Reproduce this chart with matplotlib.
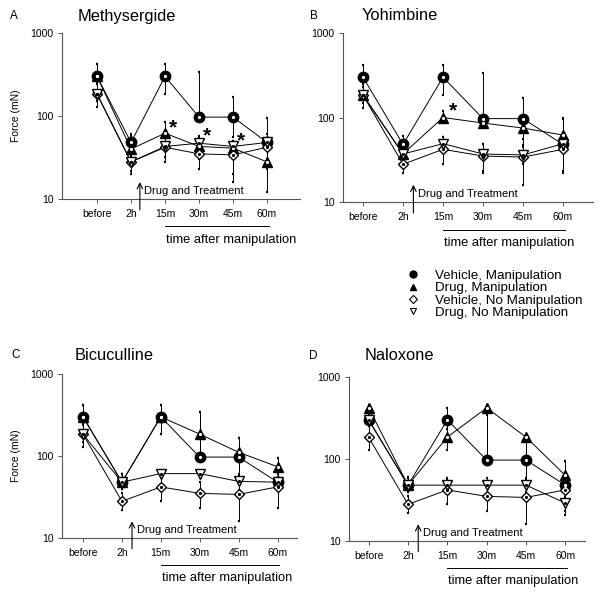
import matplotlib
matplotlib.use('Agg')
import matplotlib.pyplot as plt
import numpy as np
from matplotlib.lines import Line2D
from matplotlib.ticker import FixedLocator, NullLocator, FixedFormatter

plt.rcParams['font.family'] = ['Liberation Sans', 'DejaVu Sans']

# time points
times = ['before', '2h', '15m', '30m', '45m', '60m']

# vehicle groups (same in every panel)
veh_m = [300, 48, 300, 97, 97, 48]
veh_m_lo = [250, 40, 184, 88, 56, 40]
veh_m_hi = [420, 61, 420, 340, 168, 95]
veh_n = [184, 28, 42, 35, 34, 42]
veh_n_lo = [130, 22, 28, 23, 16, 23]
veh_n_hi = [250, 35, 58, 48, 47, 55]

# A: Methysergide
a_drug_m = [300, 40, 62, 43, 41, 28]
a_drug_m_lo = [250, 34, 45, 35, 33, 12]
a_drug_m_hi = [420, 57, 85, 58, 50, 48]
a_drug_n = [184, 28, 43, 47, 43, 48]
a_drug_n_lo = [150, 20, 32, 30, 20, 30]
a_drug_n_hi = [240, 33, 55, 55, 50, 60]
a_stars_x = [2, 3, 4]
a_stars_y = [72, 57, 50]

# B: Yohimbine
b_drug_m = [184, 37, 100, 86, 75, 62]
b_drug_m_lo = [150, 30, 88, 80, 40, 45]
b_drug_m_hi = [230, 45, 118, 95, 95, 98]
b_drug_n = [184, 37, 49, 37, 36, 49]
b_drug_n_lo = [150, 28, 38, 22, 28, 22]
b_drug_n_hi = [230, 44, 58, 48, 45, 60]
b_stars_x = [2]
b_stars_y = [119]

# C: Bicuculline
c_drug_m = [300, 48, 300, 185, 111, 74]
c_drug_m_lo = [250, 40, 184, 100, 60, 60]
c_drug_m_hi = [420, 60, 420, 341, 167, 94]
c_drug_n = [184, 48, 61, 61, 49, 48]
c_drug_n_lo = [150, 40, 55, 55, 38, 38]
c_drug_n_hi = [240, 60, 66, 66, 57, 56]

# D: Naloxone
d_drug_m = [420, 48, 185, 420, 185, 63]
d_drug_m_lo = [350, 40, 130, 100, 58, 50]
d_drug_m_hi = [460, 58, 230, 460, 200, 95]
d_drug_n = [300, 48, 48, 48, 48, 29]
d_drug_n_lo = [250, 40, 40, 38, 40, 21]
d_drug_n_hi = [360, 60, 55, 58, 57, 34]

legend_labels = ['Vehicle, Manipulation', 'Drug, Manipulation',
                 'Vehicle, No Manipulation', 'Drug, No Manipulation']

fig = plt.figure(figsize=(6, 5.95), dpi=100)
W, H = 600, 595


def px_axes(left, top, right, bottom):
    return fig.add_axes([left / W, 1 - bottom / H, (right - left) / W, (bottom - top) / H])


def series(ax, x, m, lo, hi, marker, face, dot):
    m = np.array(m, float)
    ax.errorbar(x, m, yerr=[m - np.array(lo), np.array(hi) - m], fmt='none',
                ecolor='black', elinewidth=0.7, capsize=1.0, capthick=1.6, zorder=2)
    ax.plot(x, m, color='black', lw=0.7, zorder=3)
    ax.plot(x, m, ls='none', marker=marker, ms=7.5 if marker != 'D' else 5.5,
            mfc=face, mec='black', mew=1.0, zorder=4)
    ax.plot(x, m, ls='none', marker='o', ms=1.3, mfc=dot, mec=dot, zorder=5)


def panel(ax, letter, title, pos, dm, dm_lo, dm_hi, dn, dn_lo, dn_hi, xlim, ylabel, stars=None):
    x = np.arange(len(times))
    series(ax, x, dm, dm_lo, dm_hi, '^', 'black', 'white')
    series(ax, x, veh_m, veh_m_lo, veh_m_hi, 'o', 'black', 'white')
    series(ax, x, veh_n, veh_n_lo, veh_n_hi, 'D', 'white', 'black')
    series(ax, x, dn, dn_lo, dn_hi, 'v', 'white', 'black')
    if stars is not None:
        for sx, sy in zip(*stars):
            ax.text(sx + 0.24, sy, '*', fontsize=15, fontweight='bold', ha='center', va='center')

    ax.set_yscale('log')
    ax.set_ylim(10, 1000)
    ax.set_xlim(*xlim)
    ax.yaxis.set_major_locator(FixedLocator([10, 100, 1000]))
    ax.yaxis.set_major_formatter(FixedFormatter(['10', '100', '1000']))
    ax.yaxis.set_minor_locator(NullLocator())
    ax.set_xticks(x)
    ax.set_xticklabels(times)
    ax.tick_params(labelsize=7.5, length=3, width=0.7, color='#555555')
    ax.tick_params(axis='x', pad=4)
    ax.tick_params(axis='y', pad=3)
    for s in ['top', 'right']:
        ax.spines[s].set_visible(False)
    for s in ['left', 'bottom']:
        ax.spines[s].set_color('#555555')
        ax.spines[s].set_linewidth(0.8)
    if ylabel:
        ax.set_ylabel('Force (mN)', fontsize=7.5, labelpad=7)

    # drug and treatment arrow
    ax.annotate('', xy=(1.26, 16), xytext=(1.26, 7.4),
                arrowprops=dict(arrowstyle='->', lw=0.8, color='black', shrinkA=0, shrinkB=0),
                annotation_clip=False)
    ax.text(1.38, 12.5, 'Drug and Treatment', fontsize=8, va='center', ha='left')

    # time after manipulation bracket
    ax.plot([2, 5.05], [-0.165, -0.165], color='black', lw=0.7,
            transform=ax.get_xaxis_transform(), clip_on=False)
    ax.text(2.02, -0.245, 'time after manipulation', fontsize=9.3,
            transform=ax.get_xaxis_transform(), va='center', ha='left')

    lx, tx, ty = pos
    fig.text(lx / W, 1 - ty / H, letter, fontsize=8.5, va='center', ha='left')
    fig.text(tx / W, 1 - ty / H, title, fontsize=11.8, va='center', ha='left')


axA = px_axes(62, 33, 300, 199)
axB = px_axes(343, 33, 593, 202)
axC = px_axes(62, 374, 297, 538)
axD = px_axes(349, 377, 585, 541)

panel(axA, 'A', 'Methysergide', (10, 78, 16), a_drug_m, a_drug_m_lo, a_drug_m_hi,
      a_drug_n, a_drug_n_lo, a_drug_n_hi, (-1.03, 5.97), True, (a_stars_x, a_stars_y))
panel(axB, 'B', 'Yohimbine', (310, 362, 16), b_drug_m, b_drug_m_lo, b_drug_m_hi,
      b_drug_n, b_drug_n_lo, b_drug_n_hi, (-0.5, 5.75), False, (b_stars_x, b_stars_y))
panel(axC, 'C', 'Bicuculline', (11, 75, 355), c_drug_m, c_drug_m_lo, c_drug_m_hi,
      c_drug_n, c_drug_n_lo, c_drug_n_hi, (-0.54, 5.5), True)
panel(axD, 'D', 'Naloxone', (309, 365, 356), d_drug_m, d_drug_m_lo, d_drug_m_hi,
      d_drug_n, d_drug_n_lo, d_drug_n_hi, (-0.5, 5.5), False)

handles = [
    Line2D([], [], ls='none', marker='o', ms=5, mfc='black', mec='black'),
    Line2D([], [], ls='none', marker='^', ms=5, mfc='black', mec='black'),
    Line2D([], [], ls='none', marker='D', ms=4, mfc='white', mec='black', mew=0.8),
    Line2D([], [], ls='none', marker='v', ms=5, mfc='white', mec='black', mew=0.8),
]
fig.legend(handles, legend_labels, loc='upper left', bbox_to_anchor=(400 / W, 1 - 263 / H),
           frameon=False, fontsize=9.6, handlelength=1.0, handletextpad=1.1,
           labelspacing=0.0, borderpad=0)

fig.savefig('out.png', dpi=100)
